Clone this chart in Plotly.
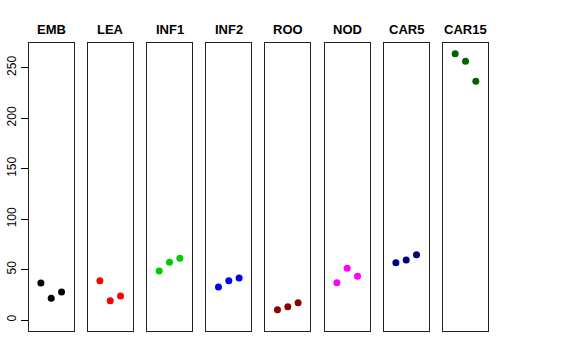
import plotly.graph_objects as go

groups = ["EMB", "LEA", "INF1", "INF2", "ROO", "NOD", "CAR5", "CAR15"]
colors = ["#000000", "#FF0000", "#00CD00", "#0000FF", "#8B0000", "#FF00FF", "#000080", "#006400"]
emb = [36.7, 21.5, 27.8]
lea = [38.9, 19.1, 23.8]
inf1 = [48.6, 57.2, 61.1]
inf2 = [32.7, 38.9, 41.6]
roo = [10.2, 13.2, 17.1]
nod = [37.0, 51.2, 43.3]
car5 = [56.8, 59.5, 64.7]
car15 = [263.9, 256.4, 236.6]
values = [emb, lea, inf1, inf2, roo, nod, car5, car15]
replicate = [1, 2, 3]
y_ticks = [0, 50, 100, 150, 200, 250]

W, H = 576, 360
panel_left = [28.7, 87.7, 147.0, 206.3, 265.3, 324.7, 383.7, 443.0]
panel_w = 45.0
top_px, bot_px = 43.3, 330.7

fig = go.Figure()
layout = dict(
    width=W, height=H, margin=dict(l=0, r=0, t=0, b=0),
    paper_bgcolor="white", plot_bgcolor="white", showlegend=False,
    font=dict(family="Liberation Sans, Arial, sans-serif", color="black"),
)
annotations = []
for i, (g, c, v) in enumerate(zip(groups, colors, values)):
    n = "" if i == 0 else str(i + 1)
    fig.add_trace(go.Scatter(x=replicate, y=v, mode="markers",
                             marker=dict(color=c, size=7, line=dict(width=0)),
                             xaxis="x" + n, yaxis="y" + n))
    x0 = panel_left[i] / W
    x1 = (panel_left[i] + panel_w) / W
    layout["xaxis" + n] = dict(domain=[x0, x1], range=[-0.18, 4.18], showgrid=False,
                               zeroline=False, showticklabels=False, ticks="",
                               showline=True, mirror=True, linecolor="#222", linewidth=1,
                               anchor="y" + n, fixedrange=True)
    ya = dict(domain=[1 - bot_px / H, 1 - top_px / H], range=[-10.6, 274.2],
              showgrid=False, zeroline=False, showline=True, mirror=True,
              linecolor="#222", linewidth=1, anchor="x" + n, fixedrange=True)
    if i == 0:
        ya.update(tickvals=y_ticks, ticktext=[str(t) for t in y_ticks], ticks="outside",
                  ticklen=7, tickcolor="black", tickangle=-90,
                  tickfont=dict(size=12, color="black"))
    else:
        ya.update(showticklabels=False, ticks="")
    layout["yaxis" + n] = ya
    annotations.append(dict(text="<b>" + g + "</b>", x=(x0 + x1) / 2, y=1 - 29 / H,
                            xref="paper", yref="paper", showarrow=False,
                            xanchor="center", yanchor="middle",
                            font=dict(size=13, color="black")))
layout["annotations"] = annotations
fig.update_layout(**layout)
fig.write_html("out.html", config={"displayModeBar": False},
               post_script="document.body.style.margin='0';document.body.style.overflow='hidden';")
